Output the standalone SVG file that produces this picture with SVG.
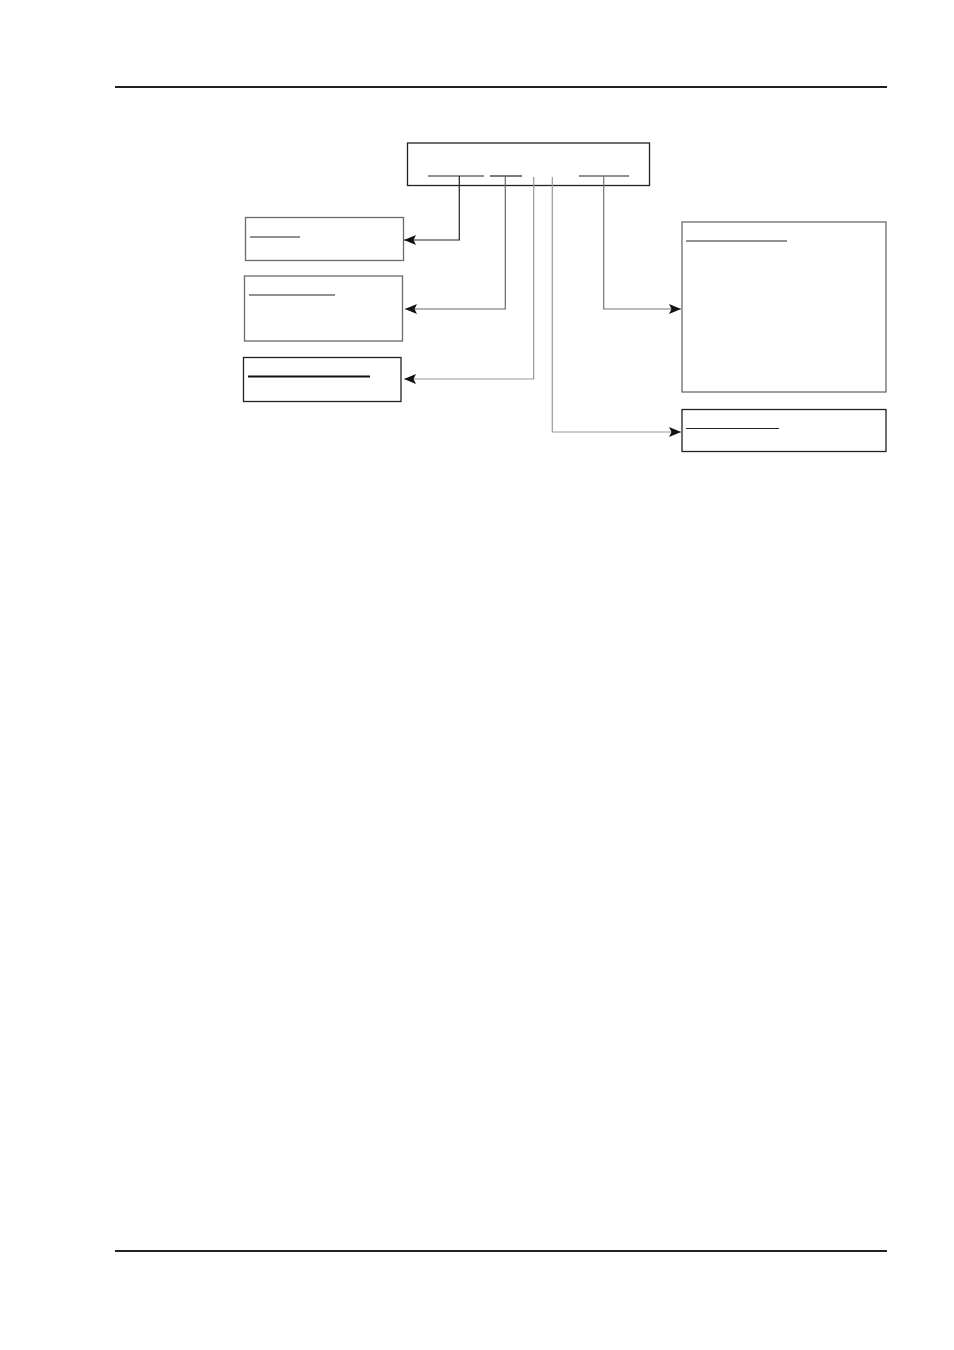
<svg xmlns="http://www.w3.org/2000/svg" width="954" height="1350" viewBox="0 0 954 1350">
<defs>
<style>
.box{fill:#fff;stroke:#6a6a6a;stroke-width:1.3}
.boxd{fill:#fff;stroke:#222;stroke-width:1.3}
.ul{stroke:#222;stroke-width:1.2}
.c{fill:none;stroke-width:1.2}
</style>
<marker id="ah" viewBox="0 0 12 10" refX="12" refY="5" markerWidth="12" markerHeight="10" markerUnits="userSpaceOnUse" orient="auto">
<path d="M0,0 L12,5 L0,10 L2.5,5 z" fill="#111"/>
</marker>
</defs>
<rect width="954" height="1350" fill="#fff"/>
<line x1="115" y1="87" x2="887" y2="87" stroke="#222" stroke-width="2"/>
<line x1="115" y1="1251" x2="887" y2="1251" stroke="#222" stroke-width="2"/>
<g id="main">
<rect class="boxd" x="407.5" y="143" width="242" height="42.5"/>
<line class="ul" x1="428" y1="176" x2="484" y2="176"/>
<line class="ul" x1="490" y1="176" x2="522" y2="176"/>
<line class="ul" x1="579" y1="176" x2="629" y2="176"/>
</g>
<g id="box1">
<rect class="box" x="245.5" y="217.5" width="158" height="43"/>
<line class="ul" x1="250" y1="237" x2="300" y2="237"/>
</g>
<g id="box2">
<rect class="box" x="244.5" y="276" width="158" height="65"/>
<line class="ul" x1="249" y1="295" x2="335" y2="295"/>
</g>
<g id="box3">
<rect class="boxd" x="243.5" y="357.5" width="157.5" height="44"/>
<line x1="248" y1="376.5" x2="370" y2="376.5" stroke="#111" stroke-width="1.8"/>
</g>
<g id="box4">
<rect class="box" x="682" y="222" width="204" height="170"/>
<line class="ul" x1="686" y1="241" x2="787" y2="241"/>
</g>
<g id="box5">
<rect class="boxd" x="682" y="409.5" width="204" height="42"/>
<line class="ul" x1="686" y1="428.5" x2="779" y2="428.5"/>
</g>
<g id="connectors">
<path class="c" stroke="#222" d="M459.3,176 V240 H404" marker-end="url(#ah)"/>
<path class="c" stroke="#666" d="M505.3,176 V309 H405" marker-end="url(#ah)"/>
<path class="c" stroke="#999" d="M533.7,177 V379 H404" marker-end="url(#ah)"/>
<path class="c" stroke="#999" d="M552.3,177 V432 H681" marker-end="url(#ah)"/>
<path class="c" stroke="#777" d="M603.7,176 V309 H681" marker-end="url(#ah)"/>
</g>
</svg>
